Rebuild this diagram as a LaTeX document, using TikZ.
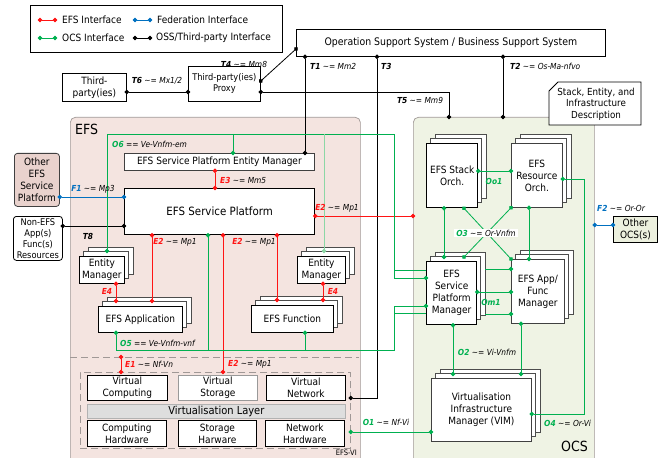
\documentclass[tikz,border=0pt]{standalone}
\usepackage{fontspec}
\setmainfont{DejaVu Sans Condensed}
\usetikzlibrary{arrows.meta,calc}
\definecolor{efsred}{RGB}{255,20,20}
\definecolor{ocsgreen}{RGB}{0,176,80}
\definecolor{fedblue}{RGB}{0,112,192}
\definecolor{ltgreen}{RGB}{140,215,165}
\definecolor{efsfill}{RGB}{244,228,224}
\definecolor{ocsfill}{RGB}{239,243,228}
\definecolor{otherefs}{RGB}{233,210,205}
\definecolor{otherocs}{RGB}{236,240,222}
\definecolor{regionline}{RGB}{160,152,150}
\newcommand\ilab[3]{{\color{#1}\bfseries\itshape #2}~\textit{#3}}
\newcommand\apx{\textasciitilde=}
\newcommand\mybacks[4]{%
  \draw[backbox] (#1+9,#2-9) rectangle (#3+9,#4-9);
  \draw[backbox] (#1+4.5,#2-4.5) rectangle (#3+4.5,#4-4.5);
}
\newcommand\mybox[7][]{\node[#1, minimum width={(#5-#3)*1pt}, minimum height={(#6-#4)*1pt}, anchor=north west] (#2) at (#3,#4) {#7};}
\begin{document}
\begin{tikzpicture}[x=1pt,y=-1pt,
  box/.style={draw, fill=white, inner sep=0pt, align=center, line width=0.8pt, font=\fontsize{10}{12}\selectfont},
  thick box/.style={box, line width=1.3pt},
  backbox/.style={draw=black!70, fill=white, line width=0.6pt},
  region/.style={draw=regionline, line width=0.7pt, rounded corners=5pt, inner sep=0pt},
  lbl/.style={inner sep=1pt, font=\fontsize{8.3}{10}\selectfont},
  legtext/.style={inner sep=0pt, anchor=west, font=\fontsize{10}{11}\selectfont},
  efsl/.style={draw=efsred, line width=0.8pt},
  ocsl/.style={draw=ocsgreen, line width=0.8pt},
  ltl/.style={draw=ltgreen, line width=0.8pt},
  fedl/.style={draw=fedblue, line width=0.8pt},
  blkl/.style={draw=black, line width=0.8pt},
  dots/.style={{Circle[length=4.4pt]}-{Circle[length=4.4pt]}, shorten <=-2.2pt, shorten >=-2.2pt},
  dotend/.style={-{Circle[length=4.4pt]}, shorten >=-2.2pt},
  dotstart/.style={{Circle[length=4.4pt]}-, shorten <=-2.2pt},
]
\useasboundingbox (0,0) rectangle (668,457);
% helper coordinates
\foreach \v in {107,116,121,152,208,215,223,233,277,305,323,324,377,394,444,449,453,464,485,503,521,529,584}
  {\coordinate (x\v) at (\v,0);}
\foreach \v in {49,81,92,117,134,171,179,197,216,225,226,251,257,270,278,292,300,301,306,313,314,350,357,374,398,414,432,269}
  {\coordinate (c\v) at (0,\v);}

% regions
\mybox[region, fill=efsfill]{efs}{70}{117}{360}{475}{}
\mybox[region, fill=ocsfill]{ocs}{413}{117}{594}{475}{}
\node[anchor=west, font=\fontsize{14}{14}\selectfont, inner sep=0] (efslabel) at (75,129) {EFS};
\node[anchor=south east, font=\fontsize{14}{14}\selectfont, inner sep=0] (ocslabel) at (588,452) {OCS};
\draw[regionline, dash pattern=on 7pt off 4pt, line width=0.8pt] (70,357) -- (359,357);
\mybox[draw=regionline, dash pattern=on 7pt off 4pt, line width=0.8pt, inner sep=0pt]{vi}{80}{372}{350}{448}{}
\node[anchor=south east, inner sep=0, font=\fontsize{7.5}{8}\selectfont] (efsvi) at (357,456) {EFS-VI};

% legend
\mybox[draw, line width=0.8pt, inner sep=0pt]{legend}{30}{5}{282}{52}{}
\coordinate (la1) at (40,20); \coordinate (la2) at (55,20);
\coordinate (lb1) at (135,20); \coordinate (lb2) at (150,20);
\coordinate (lc1) at (40,38); \coordinate (lc2) at (55,38);
\coordinate (ld1) at (135,38); \coordinate (ld2) at (150,38);
\draw[efsl,dots] (la1) -- (la2);
\draw[fedl,dots] (lb1) -- (lb2);
\draw[ocsl,dots] (lc1) -- (lc2);
\draw[blkl,dots] (ld1) -- (ld2);
\node[legtext] (lta) at (62,20) {EFS Interface};
\node[legtext] (ltb) at (157,20) {Federation Interface};
\node[legtext] (ltc) at (62,38) {OCS Interface};
\node[legtext] (ltd) at (156,38) {OSS/Third-party Interface};

% top boxes
\mybox[box]{third}{62}{73}{126}{101}{Third-\\party(ies)}
\mybox[box, font=\fontsize{9.2}{11}\selectfont]{proxy}{188}{66}{260}{101}{Third-party(ies)\\Proxy}
\mybox[box, font=\fontsize{10.4}{12}\selectfont]{oss}{296}{29}{605}{56}{Operation Support System / Business Support System}
\draw[fill=white, line width=0.8pt] (558,82) -- (641,82) -- (641,125) -- (549,125) -- (549,91) -- cycle;
\node[align=center, inner sep=0pt, font=\fontsize{9.7}{11.5}\selectfont] (seid) at (596,104) {Stack, Entity, and\\Infrastructure\\Description};

% EFS boxes
\mybox[box, draw=black!75]{spem}{124}{153}{314}{170}{EFS Service Platform Entity Manager}
\mybox[thick box, font=\fontsize{11.4}{13}\selectfont]{sp}{124}{188}{314}{234}{EFS Service Platform}
\mybox[box, fill=otherefs, rounded corners=3pt, draw=black!75, font=\fontsize{10}{12}\selectfont]{oefs}{14}{153}{59}{206}{Other\\EFS\\Service\\Platform}
\mybox[box, rounded corners=3pt, font=\fontsize{9.2}{11}\selectfont]{nefs}{13}{216}{62}{260}{Non-EFS\\App(s)\\Func(s)\\Resources}
\mybacks{79}{256}{124}{283}
\mybox[box]{lem}{79}{256}{124}{283}{Entity\\Manager}
\mybacks{297}{256}{345}{283}
\mybox[box]{rem}{297}{256}{345}{283}{Entity\\Manager}
\mybacks{98}{306}{182}{332}
\mybox[box]{app}{98}{306}{182}{332}{EFS Application}
\mybacks{251}{305}{333}{332}
\mybox[box]{func}{251}{305}{333}{332}{EFS Function}

% virtualisation
\mybox[box]{vc}{87}{375}{167}{400}{Virtual\\Computing}
\mybox[box, draw=black!40]{vs}{178}{375}{257}{400}{Virtual\\Storage}
\mybox[box]{vn}{266}{375}{345}{400}{Virtual\\Network}
\mybox[box, fill=black!13, draw=black!30, font=\fontsize{11}{12}\selectfont]{vl}{87}{404}{345}{418}{Virtualisation Layer}
\mybox[box]{ch}{87}{420}{166}{446}{Computing\\Hardware}
\mybox[box]{sh}{178}{420}{256}{446}{Storage\\Harware}
\mybox[box]{nh}{265}{420}{344}{446}{Network\\Hardware}

% OCS boxes
\mybacks{426}{143}{477}{207}
\mybox[thick box]{stack}{426}{143}{477}{207}{EFS Stack\\Orch.}
\mybacks{511}{143}{562}{207}
\mybox[box, draw=black!75]{res}{511}{143}{562}{207}{EFS\\Resource\\Orch.}
\mybacks{426}{261}{476}{324}
\mybox[thick box]{spm}{426}{261}{476}{324}{EFS\\Service\\Platform\\Manager}
\mybacks{511}{259}{564}{323}
\mybox[box, draw=black!75]{afm}{511}{259}{564}{323}{EFS App/\\Func\\Manager}
\mybacks{431}{378}{531}{441}
\mybox[box, draw=black!75]{vim}{431}{378}{531}{441}{Virtualisation\\Infrastructure\\Manager (VIM)}
\mybox[box, fill=otherocs, line width=1pt]{oocs}{613}{216}{657}{242}{Other\\OCS(s)}

% ---- connectors ----
% black
\draw[blkl,dots] (third.east |- c92) -- (proxy.west |- c92);
\draw[blkl,dots] (proxy.east |- c81) -- (oss.west |- c49);
\draw[blkl,dots] (proxy.east |- c92) -- (x449 |- c92) -- (ocs.north -| x449);
\draw[blkl,dots] (oss.south -| x305) -- (spem.north -| x305);
\draw[blkl,dots] (oss.south -| x377) -- (x377 |- c398) -- (vi.east |- c398);
\draw[blkl,dots] (oss.south -| x503) -- (ocs.north -| x503);
\draw[blkl,dots] (nefs.east |- c226) -- (sp.west |- c226);
% blue
\draw[fedl,dots] (oefs.east |- c197) -- (sp.west |- c197);
\draw[fedl,dots] (ocs.east |- c225) -- (oocs.west |- c225);
% red
\draw[efsl,dots] (spem.south -| x215) -- (sp.north -| x215);
\draw[efsl,dots] (sp.east |- c216) -- (ocs.west |- c216);
\draw[efsl,dots] (sp.south -| x152) -- (x152 |- c301);
\draw[efsl,dots] (sp.south -| x223) -- (vi.north -| x223);
\draw[efsl,dots] (sp.south -| x277) -- (x277 |- c300);
\draw[efsl,dots] (lem.south -| x116) -- (x116 |- c301);
\draw[efsl,dots] (rem.south -| x323) -- (x323 |- c300);
\draw[efsl,dots] (x121 |- c357) -- (vi.north -| x121);
% green O6
\draw[ocsl,dots] (x107 |- c251) -- (x107 |- c134) -- (x394 |- c134) -- (x394 |- c278) -- (spm.west |- c278);
\draw[ocsl,dotend] (x233 |- c134) -- (spem.north -| x233);
\draw[ocsl] (x394 |- c270) -- (spm.west |- c270);
\draw[ltl,dotend] (x324 |- c134) -- (x324 |- c251);
% green O5
\draw[ocsl,dots] (app.south -| x116) -- (x116 |- c350) -- (x394 |- c350) -- (x394 |- c306) -- (spm.west |- c306);
\draw[ocsl,dotstart] (sp.south -| x208) -- (x208 |- c350);
\draw[ocsl,dotstart] (func.south -| x305) -- (x305 |- c350);
\draw[ocsl] (x394 |- c313) -- (spm.west |- c313);
% green OCS internal
\draw[ocsl,dots] (stack.east |- c171) -- (res.west |- c171);
\draw[ocsl,dots] (stack.south -| x444) -- (x444 |- c257);
\draw[ocsl,dots] (stack.south -| x464) -- (afm.north west);
\draw[ocsl,dots] (res.south west) -- (x464 |- c257);
\draw[ocsl,dots] (res.south -| x529) -- (afm.north -| x529);
\draw[ocsl,dots] (spm.east |- c292) -- (afm.west |- c292);
\draw[ocsl,dotend] (x485 |- c269) -- (afm.west |- c269);
\draw[ocsl,dotend] (x485 |- c314) -- (afm.west |- c314);
\draw[ocsl,dots] (spm.south -| x453) -- (x453 |- c374);
\draw[ocsl,dots] (afm.south -| x521) -- (x521 |- c374);
\draw[ocsl,dots] (res.east |- c179) -- (x584 |- c179) -- (x584 |- c414) -- (vim.east |- c414);
\draw[ocsl,dots] (vi.east |- c432) -- (vim.west |- c432);

% ---- labels ----
\node[lbl] (lt6) at (157,81) {\ilab{black}{T6}{\apx{} Mx1/2}};
\node[lbl] (lt4) at (244,64) {\ilab{black}{T4}{\apx{} Mm8}};
\node[lbl, anchor=west] (lt1) at (309,66) {\ilab{black}{T1}{\apx{} Mm2}};
\node[lbl, anchor=west] (lt3) at (380,66) {\ilab{black}{T3}{}};
\node[lbl, anchor=west] (lt2) at (509,66) {\ilab{black}{T2}{\apx{} Os-Ma-nfvo}};
\node[lbl] (lt5) at (420,100) {\ilab{black}{T5}{\apx{} Mm9}};
\node[lbl] (lf1) at (93,189) {\ilab{fedblue}{F1}{\apx{} Mp3}};
\node[lbl] (lt8) at (88,236) {\ilab{black}{T8}{}};
\node[lbl, anchor=west] (le3) at (219,180) {\ilab{efsred}{E3}{\apx{} Mm5}};
\node[lbl] (le2r) at (337,208) {\ilab{efsred}{E2}{\apx{} Mp1}};
\node[lbl] (le2a) at (175,242) {\ilab{efsred}{E2}{\apx{} Mp1}};
\node[lbl] (le2c) at (254,242) {\ilab{efsred}{E2}{\apx{} Mp1}};
\node[lbl] (le4l) at (107,291) {\ilab{efsred}{E4}{}};
\node[lbl] (le4r) at (333,291) {\ilab{efsred}{E4}{}};
\node[lbl, anchor=west] (le1) at (124,364) {\ilab{efsred}{E1}{\apx{} Nf-Vn}};
\node[lbl, anchor=west] (le2b) at (227,364) {\ilab{efsred}{E2}{\apx{} Mp1}};
\node[lbl, anchor=west] (lo6) at (111,144) {\ilab{ocsgreen}{O6}{== Ve-Vnfm-em}};
\node[lbl, anchor=west] (lo5) at (119,343) {\ilab{ocsgreen}{O5}{== Ve-Vnfm-vnf}};
\node[lbl] (loo1) at (494,181) {\ilab{ocsgreen}{Oo1}{}};
\node[lbl, fill=white, inner xsep=2pt] (lo3) at (486,233) {\ilab{ocsgreen}{O3}{\apx{} Or-Vnfm}};
\node[lbl] (lom1) at (491,302) {\ilab{ocsgreen}{Om1}{}};
\node[lbl] (lo2) at (487,352) {\ilab{ocsgreen}{O2}{\apx{} Vi-Vnfm}};
\node[lbl, anchor=west] (lo4) at (543,423) {\ilab{ocsgreen}{O4}{\apx{} Or-Vi}};
\node[lbl] (lo1) at (386,422) {\ilab{ocsgreen}{O1}{\apx{} Nf-Vi}};
\node[lbl, anchor=west] (lf2) at (596,208) {\ilab{fedblue}{F2}{\apx{} Or-Or}};
\end{tikzpicture}
\end{document}
